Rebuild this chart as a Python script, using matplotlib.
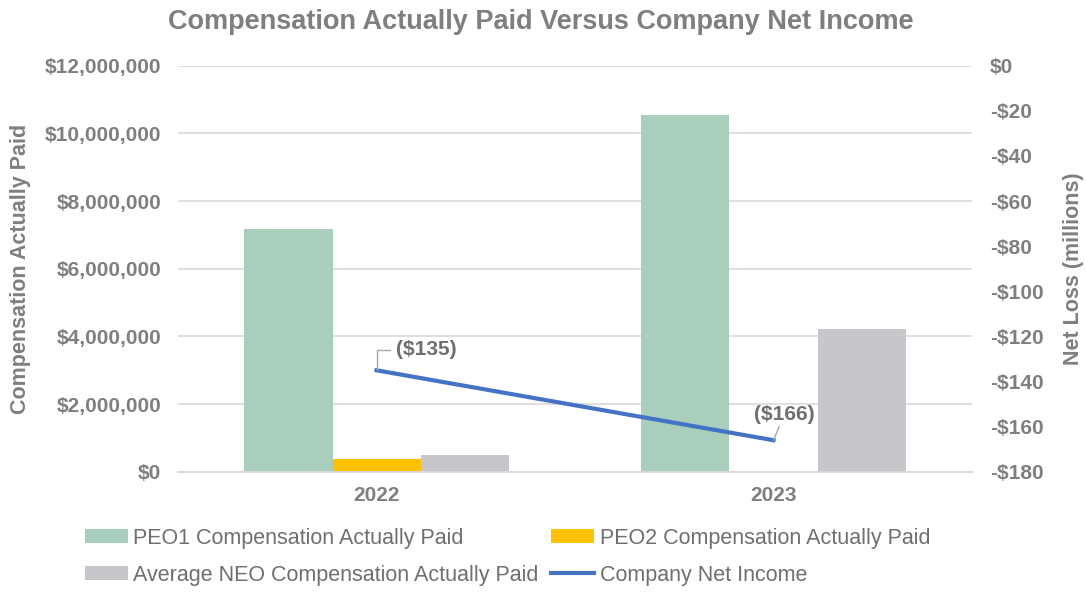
import matplotlib.pyplot as plt
import numpy as np
from matplotlib.ticker import FuncFormatter

plt.rcParams['font.family'] = ['Liberation Sans', 'DejaVu Sans']

years = ['2022', '2023']
peo1_cap = [7180000, 10550000]
peo2_cap = [380000, 0]
neo_cap = [500000, 4230000]
net_income = [-135, -166]
net_labels = ['($135)', '($166)']

text_gray = '#7f7f7f'
c_peo1 = '#a9cfbc'
c_peo2 = '#ffc000'
c_neo = '#c6c7ca'
c_line = '#4472c4'
grid_c = '#d9d9d9'

fig = plt.figure(figsize=(10.86, 5.92), dpi=100)
ax = fig.add_axes([0.164, 0.203, 0.731, 0.686])
ax2 = ax.twinx()

x = np.arange(len(years))
w = 0.222
b1 = ax.bar(x - w, peo1_cap, w, color=c_peo1, label='PEO1 Compensation Actually Paid', zorder=2)
b2 = ax.bar(x, peo2_cap, w, color=c_peo2, label='PEO2 Compensation Actually Paid', zorder=2)
b3 = ax.bar(x + w, neo_cap, w, color=c_neo, label='Average NEO Compensation Actually Paid', zorder=2)

ax.set_xlim(-0.5, 1.5)
ax.set_ylim(0, 12000000)
ax.set_yticks(np.arange(0, 12000001, 2000000))
ax.yaxis.set_major_formatter(FuncFormatter(lambda v, p: '${:,.0f}'.format(v)))
ax.set_xticks(x)
ax.set_xticklabels(years)
ax.grid(axis='y', color=grid_c, linewidth=1.2, zorder=0)
ax.set_axisbelow(True)

ax2.set_ylim(-180, 0)
ax2.set_yticks(np.arange(-180, 1, 20))
ax2.yaxis.set_major_formatter(FuncFormatter(lambda v, p: '$0' if v == 0 else '-${:.0f}'.format(-v)))
ln, = ax2.plot(x, net_income, color=c_line, linewidth=3, label='Company Net Income', zorder=3)

for a in (ax, ax2):
    for s in ['top', 'left', 'right']:
        a.spines[s].set_visible(False)
    a.spines['bottom'].set_color(grid_c)
    a.spines['bottom'].set_linewidth(1.2)
    a.tick_params(length=0, colors=text_gray, labelsize=15)
    for t in a.get_yticklabels() + a.get_xticklabels():
        t.set_fontweight('bold')
ax.tick_params(axis='y', pad=12)
ax2.tick_params(axis='y', pad=13)
ax.tick_params(axis='x', pad=10)

ax.set_ylabel('Compensation Actually Paid', fontsize=15.5, fontweight='bold', color=text_gray, labelpad=10)
ax2.set_ylabel('Net Loss (millions)', fontsize=15.5, fontweight='bold', color=text_gray, labelpad=14)

ax2.annotate(net_labels[0], xy=(x[0], net_income[0]), xytext=(14, 8), textcoords='offset points',
             fontsize=15, fontweight='bold', color='#6f6f6f', va='bottom', ha='left',
             arrowprops=dict(arrowstyle='-', color='#a6a6a6', lw=1,
                             connectionstyle='angle,angleA=0,angleB=90,rad=0', shrinkA=2, shrinkB=0))
ax2.annotate(net_labels[1], xy=(x[1], net_income[1]), xytext=(-14, 12), textcoords='offset points',
             fontsize=15, fontweight='bold', color='#6f6f6f', va='bottom', ha='left',
             arrowprops=dict(arrowstyle='-', color='#a6a6a6', lw=1, shrinkA=0, shrinkB=0))

fig.suptitle('Compensation Actually Paid Versus Company Net Income', x=0.498, y=0.985,
             fontsize=19.5, fontweight='bold', color=text_gray)

handles = [b1, b3, b2, ln]
fig.legend(handles, [h.get_label() for h in handles], ncol=2, loc='lower left',
           bbox_to_anchor=(0.06, -0.022), frameon=False, fontsize=15.5, labelcolor='#6f6f6f',
           handlelength=2.0, handleheight=0.6, columnspacing=0.6, handletextpad=0.25, labelspacing=0.75)

fig.savefig('out.png', dpi=100)
